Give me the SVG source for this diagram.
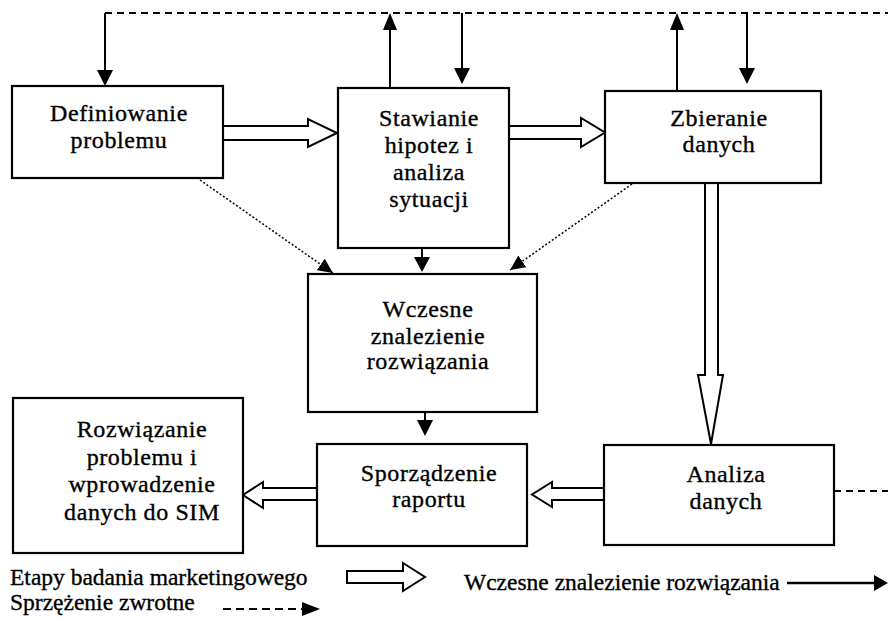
<svg xmlns="http://www.w3.org/2000/svg" width="888" height="618" viewBox="0 0 888 618">
<style>
.box{fill:#fff;stroke:#000;stroke-width:2.2}
.t{font-family:"Liberation Serif","Times New Roman",serif;font-size:24px;letter-spacing:0.6px;text-anchor:middle;fill:#000;stroke:#000;stroke-width:0.35}
.lg{font-family:"Liberation Serif","Times New Roman",serif;font-size:23.5px;fill:#000;stroke:#000;stroke-width:0.35}
.ln{fill:none;stroke:#000;stroke-width:2}
.dash{fill:none;stroke:#000;stroke-width:2;stroke-dasharray:7 5}
.dot{fill:none;stroke:#000;stroke-width:1.5;stroke-dasharray:2 2}
.hol{fill:#fff;stroke:#000;stroke-width:2;stroke-linejoin:miter}
.ah{fill:#000}
</style>
<defs>
<marker id="dh" markerWidth="16" markerHeight="14" refX="15" refY="7" orient="auto" markerUnits="userSpaceOnUse">
<path d="M0,0 L15,7 L0,14 Z" fill="#000"/>
</marker>
</defs>
<g id="connectors">
<path class="dash" d="M105,13 H888"/>
<path class="dash" d="M834,491 H888"/>
<path class="ln" d="M105,13 V72"/>
<polygon class="ah" points="97,70 113,70 105,86"/>
<path class="ln" d="M390,88 V28"/>
<polygon class="ah" points="383,30 397,30 390,13"/>
<path class="ln" d="M462,13 V70"/>
<polygon class="ah" points="454,68 470,68 462,84"/>
<path class="ln" d="M677,91 V28"/>
<polygon class="ah" points="670,30 684,30 677,13"/>
<path class="ln" d="M747,13 V70"/>
<polygon class="ah" points="739,68 755,68 747,84"/>
<polygon class="hol" points="223,126 308,126 308,119 337,133 308,147 308,140 223,140"/>
<polygon class="hol" points="509,126 581,126 581,118 605,132.5 581,147 581,139 509,139"/>
<polygon class="hol" points="705,183 718,183 718,375 723,375 711,444 698,375 705,375"/>
<polygon class="hol" points="604,488 552,488 552,482 532,494.5 552,507 552,500 604,500"/>
<polygon class="hol" points="317,488 263,488 263,482 243,495 263,508 263,500 317,500"/>
<path class="dot" d="M200,180 L333,273" marker-end="url(#dh)"/>
<path class="dot" d="M632,184 L510,270" marker-end="url(#dh)"/>
<path class="ln" d="M422,248 V260"/>
<polygon class="ah" points="414,257 430,257 422,272"/>
<path class="ln" d="M425,412 V422"/>
<polygon class="ah" points="417,420 433,420 425,436"/>
</g>
<g id="n1"><rect class="box" x="12" y="86" width="211" height="92"/>
<text class="t" x="119" y="121">Definiowanie</text><text class="t" x="119" y="148">problemu</text></g>
<g id="n2"><rect class="box" x="338" y="88" width="171" height="160"/>
<text class="t" x="429" y="126">Stawianie</text><text class="t" x="429" y="153">hipotez i</text><text class="t" x="429" y="180">analiza</text><text class="t" x="429" y="207">sytuacji</text></g>
<g id="n3"><rect class="box" x="605" y="91" width="216" height="92"/>
<text class="t" x="719" y="126">Zbieranie</text><text class="t" x="719" y="152">danych</text></g>
<g id="n4"><rect class="box" x="308" y="274" width="229" height="138"/>
<text class="t" x="428" y="317">Wczesne</text><text class="t" x="428" y="344">znalezienie</text><text class="t" x="428" y="369">rozwiązania</text></g>
<g id="n5"><rect class="box" x="317" y="444" width="210" height="102"/>
<text class="t" x="429" y="481">Sporządzenie</text><text class="t" x="429" y="507">raportu</text></g>
<g id="n6"><rect class="box" x="604" y="445" width="230" height="100"/>
<text class="t" x="726" y="482">Analiza</text><text class="t" x="726" y="509">danych</text></g>
<g id="n7"><rect class="box" x="13" y="398" width="230" height="155"/>
<text class="t" x="142" y="437">Rozwiązanie</text><text class="t" x="142" y="465">problemu i</text><text class="t" x="142" y="492">wprowadzenie</text><text class="t" x="142" y="520">danych do SIM</text></g>
<g id="legend">
<text class="lg" x="10" y="585">Etapy badania marketingowego</text>
<text class="lg" x="10" y="610">Sprzężenie zwrotne</text>
<polygon class="hol" points="347,571 403,571 403,563 425,577 403,591 403,583 347,583"/>
<path class="dash" d="M223,609 H302" style="stroke-dasharray:8 5"/>
<polygon class="ah" points="302,602 320,609 302,616"/>
<text class="lg" x="464" y="590">Wczesne znalezienie rozwiązania</text>
<path class="ln" d="M787,583 H876" style="stroke-width:2.5"/>
<polygon class="ah" points="874,575 888,583 874,591"/>
</g>
</svg>
